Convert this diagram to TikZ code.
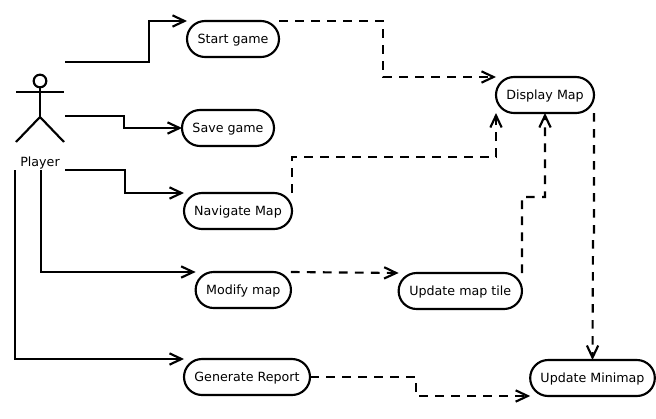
\documentclass[tikz,border=0pt]{standalone}
\usepackage{fontspec}
\setmainfont{DejaVu Sans}
\usetikzlibrary{arrows.meta}
\tikzset{
  x=0.75pt,y=-0.75pt,
  labelfont/.style={font=\fontsize{9.5pt}{11pt}\selectfont},
  usecase/.style={draw,line width=1.6pt,rectangle,rounded corners=13.5pt,minimum height=27pt,inner sep=0pt,outer sep=0pt,labelfont,text height=7.4pt,text depth=0.8pt},
  assoc/.style={line width=1.6pt,-{Straight Barb[length=9pt,width=8.5pt,line width=1.6pt]}},
  dep/.style={assoc,dash pattern=on 6.5pt off 5.5pt},
  limb/.style={line width=1.6pt}
}
\begin{document}
\begin{tikzpicture}
\useasboundingbox (0,0) rectangle (656,418);
% actor
\node[draw,circle,line width=1.6pt,minimum size=9.5pt,inner sep=0pt,outer sep=0pt] (head) at (40,81) {};
\coordinate (hip) at (40,117);
\coordinate (armL) at (16,92);
\coordinate (armR) at (64,92);
\coordinate (legL) at (16,142);
\coordinate (legR) at (64,142);
\draw[limb] (head.south) -- (hip);
\draw[limb] (armL) -- (armR);
\draw[limb] (legL) -- (hip) -- (legR);
\node[labelfont,inner sep=0pt] (player) at (40,163.5) {Player};
% use cases
\node[usecase,minimum width=69pt] (start) at (233,39) {Start game};
\node[usecase,minimum width=69pt] (save) at (228,128) {Save game};
\node[usecase,minimum width=81pt] (nav) at (238,211) {Navigate Map};
\node[usecase,minimum width=71.5pt] (modify) at (243.3,290) {Modify map};
\node[usecase,minimum width=94.5pt] (report) at (247,377) {Generate Report};
\node[usecase,minimum width=73.5pt] (display) at (545,95) {Display Map};
\node[usecase,minimum width=92.5pt] (tile) at (460.3,291) {Update map tile};
\node[usecase,minimum width=93.5pt] (minimap) at (592.5,378) {Update Minimap};
% free ends
\coordinate (a1) at (65,62);
\coordinate (a2) at (65,116);
\coordinate (a3) at (65,170);
\coordinate (a4) at (41,170);
\coordinate (a5) at (15,170);
% associations
\draw[assoc] (a1) -- (149,62) -- (149,21) -- (start.north west);
\draw[assoc] (a2) -- (124,116) -- (124,128) -- (save.west);
\draw[assoc] (a3) -- (125,170) -- (125,193) -- (nav.north west);
\draw[assoc] (a4) -- (41,272) -- (modify.north west);
\draw[assoc] (a5) -- (15,359) -- (report.north west);
% dependencies
\draw[dep] (start.north east) -- (383,21) -- (383,77) -- (display.north west);
\draw[dep] (nav.north east) -- (292,157) -- (496,157) -- (display.south west);
\draw[dep] (modify.north east) -- (tile.north west);
\draw[dep] (tile.north east) -- (522,197) -- (545,197) -- (display.south);
\draw[dep] (display.south east) -- (594,238) -- (593,238) -- (minimap.north);
\draw[dep] (report.east) -- (416,377) -- (416,396) -- (minimap.south west);
\end{tikzpicture}
\end{document}
